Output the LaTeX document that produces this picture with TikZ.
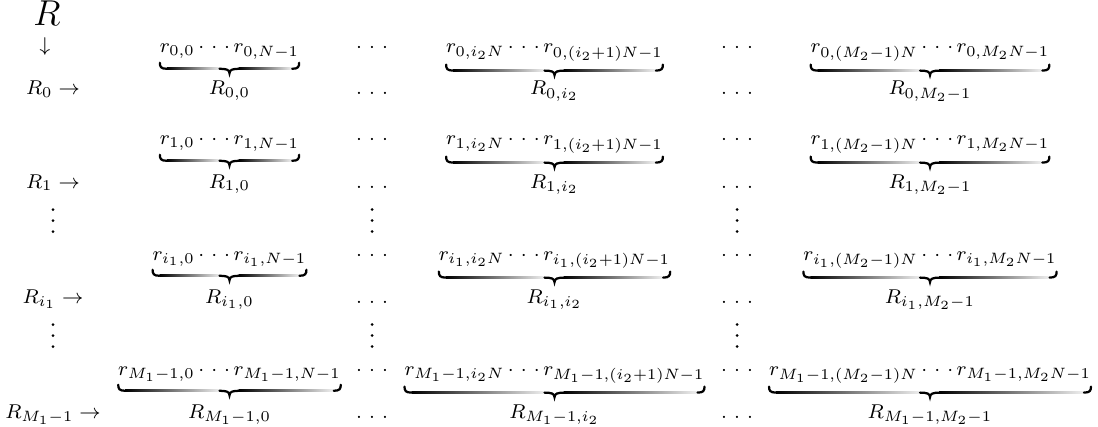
\documentclass[tikz,border=0pt]{standalone}
\usetikzlibrary{calc}
\DeclareMathSizes{8.5}{8.5}{6.4}{5}
\newcommand\mycd{\mathinner{{\cdot}\mkern6mu{\cdot}\mkern6mu{\cdot}}}
\newcommand\myld{\mathinner{{\ldotp}\mkern6mu{\ldotp}\mkern6mu{\ldotp}}}
\tikzset{
  x=0.4pt, y=-0.4pt,
  every node/.style={inner sep=0pt, outer sep=0pt, font=\fontsize{8.5}{10}\selectfont},
  toptext/.style={anchor=base},
  labtext/.style={anchor=base},
  bh/.style={line width=0.9pt, line cap=round},
  bshade/.style={left color=black, right color=black!6},
  vdot/.style={fill=black},
}
\newcommand\gbrace[1]{%
  \coordinate (#1-a) at ($(#1.south west)+(0,3.5)$);
  \coordinate (#1-b) at ($(#1.south east)+(0,3.5)$);
  \coordinate (#1-m) at ($(#1-a)!0.5!(#1-b)$);
  \draw[bh] (#1-a) .. controls ($(#1-a)+(0,4)$) and ($(#1-a)+(1,6)$) .. ($(#1-a)+(7,6)$);
  \shade[bshade] ($(#1-a)+(7,4.9)$) rectangle ($(#1-m)+(-9,7.1)$);
  \draw[bh] ($(#1-m)+(-10,6)$) .. controls ($(#1-m)+(-3,6)$) and ($(#1-m)+(0,7)$) .. ($(#1-m)+(0,10.5)$)
            .. controls ($(#1-m)+(0,7)$) and ($(#1-m)+(3,6)$) .. ($(#1-m)+(10,6)$);
  \shade[bshade] ($(#1-m)+(9,4.9)$) rectangle ($(#1-b)+(-7,7.1)$);
  \draw[bh] ($(#1-b)+(-7,6)$) .. controls ($(#1-b)+(-1,6)$) and ($(#1-b)+(0,4)$) .. (#1-b);
}
\newcommand\cell[6]{%
  \node[toptext] (#1t) at (#2,#3) {$#5$};
  \node[labtext] (#1b) at (#2,#4) {$#6$};
  \gbrace{#1t}%
}
% vertical dots: name, x, y of lowest dot
\newcommand\vd[3]{%
  \coordinate (#1) at (#2,#3);
  \fill[vdot] ($(#1)+(0,-1.5)$) circle[radius=0.6pt];
  \fill[vdot] ($(#1)+(0,-12.5)$) circle[radius=0.6pt];
  \fill[vdot] ($(#1)+(0,-23.5)$) circle[radius=0.6pt];
}
\begin{document}
\begin{tikzpicture}
\useasboundingbox (0,0) rectangle (1098,426);
% header
\node[anchor=base, font=\fontsize{14}{16}\selectfont] (R) at (47,26) {$R$};
\node (down) at (45,47) {$\downarrow$};
% left labels
\node[labtext] (L0) at (53,95) {$R_0 \rightarrow$};
\node[labtext] (L1) at (53,188) {$R_1 \rightarrow$};
\node[labtext] (Li) at (53,303) {$R_{i_1} \rightarrow$};
\node[labtext] (LM) at (53,418) {$R_{M_1-1} \rightarrow$};
\vd{LV1}{53}{233}
\vd{LV2}{53}{348}
% row 0
\cell{c00}{229.5}{53}{95}{r_{0,0}\mycd r_{0,N-1}}{R_{0,0}}
\cell{c01}{554.5}{53}{95}{r_{0,i_2N}\mycd r_{0,(i_2+1)N-1}}{R_{0,i_2}}
\cell{c02}{930}{53}{95}{r_{0,(M_2-1)N}\mycd r_{0,M_2N-1}}{R_{0,M_2-1}}
% row 1
\cell{c10}{229.5}{145}{188}{r_{1,0}\mycd r_{1,N-1}}{R_{1,0}}
\cell{c11}{554.5}{145}{188}{r_{1,i_2N}\mycd r_{1,(i_2+1)N-1}}{R_{1,i_2}}
\cell{c12}{930}{145}{188}{r_{1,(M_2-1)N}\mycd r_{1,M_2N-1}}{R_{1,M_2-1}}
% row i1
\cell{ci0}{229.5}{260}{303}{r_{i_1,0}\mycd r_{i_1,N-1}}{R_{i_1,0}}
\cell{ci1}{554.5}{260}{303}{r_{i_1,i_2N}\mycd r_{i_1,(i_2+1)N-1}}{R_{i_1,i_2}}
\cell{ci2}{930}{260}{303}{r_{i_1,(M_2-1)N}\mycd r_{i_1,M_2N-1}}{R_{i_1,M_2-1}}
% row M1-1
\cell{cM0}{229.5}{375}{418}{r_{M_1-1,0}\mycd r_{M_1-1,N-1}}{R_{M_1-1,0}}
\cell{cM1}{554.5}{375}{418}{r_{M_1-1,i_2N}\mycd r_{M_1-1,(i_2+1)N-1}}{R_{M_1-1,i_2}}
\cell{cM2}{930}{375}{418}{r_{M_1-1,(M_2-1)N}\mycd r_{M_1-1,M_2N-1}}{R_{M_1-1,M_2-1}}
% column dots
\foreach \cx/\nm in {372/a, 737/b}{
  \node[anchor=base] (d0t\nm) at (\cx,53) {$\mycd$};
  \node[anchor=base] (d0b\nm) at (\cx,95) {$\myld$};
  \node[anchor=base] (d1t\nm) at (\cx,145) {$\mycd$};
  \node[anchor=base] (d1b\nm) at (\cx,188) {$\myld$};
  \vd{dv1\nm}{\cx}{233}
  \node[anchor=base] (dit\nm) at (\cx,260) {$\mycd$};
  \node[anchor=base] (dib\nm) at (\cx,303) {$\myld$};
  \vd{dv2\nm}{\cx}{348}
  \node[anchor=base] (dMt\nm) at (\cx,375) {$\mycd$};
  \node[anchor=base] (dMb\nm) at (\cx,418) {$\myld$};
}
\end{tikzpicture}
\end{document}
